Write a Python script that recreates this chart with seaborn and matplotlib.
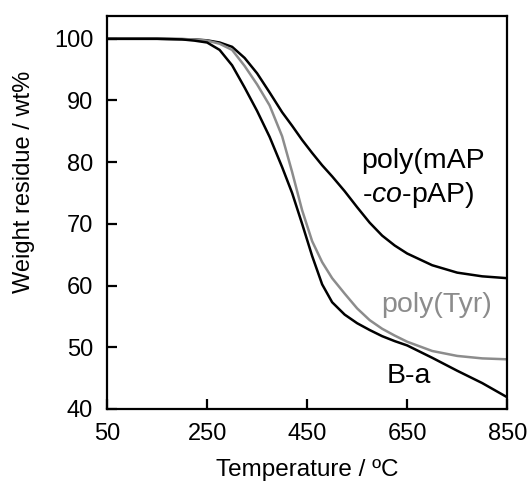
import pandas as pd
import matplotlib
matplotlib.use("Agg")
import matplotlib.pyplot as plt
import seaborn as sns

# TGA curves
temperature = [50, 100, 150, 200, 225, 250, 275, 300, 325, 350, 375, 400, 420,
               440, 460, 480, 500, 525, 550, 575, 600, 625, 650, 700, 750, 800, 850]
w_map_pap = [100, 100, 100, 99.95, 99.9, 99.75, 99.4, 98.7, 96.9, 94.4, 91.3, 88.1, 85.9,
             83.6, 81.5, 79.5, 77.7, 75.3, 72.7, 70.2, 68.1, 66.5, 65.2, 63.3, 62.1, 61.5, 61.2]
w_tyr = [100, 100, 100, 99.95, 99.9, 99.7, 99.2, 98.2, 95.6, 92.6, 89.2, 84.2, 78.4,
         72.2, 67.2, 63.8, 61.2, 58.7, 56.3, 54.4, 53.0, 51.9, 50.9, 49.4, 48.6, 48.2, 48.05]
w_ba = [100, 100, 100, 99.9, 99.7, 99.4, 98.2, 95.7, 92.1, 88.3, 84.1, 79.2, 75.0,
        70.0, 64.8, 60.2, 57.3, 55.3, 53.9, 52.8, 51.8, 51.0, 50.3, 48.3, 46.2, 44.2, 41.9]

samples = ["poly(mAP-co-pAP)", "poly(Tyr)", "B-a"]
grey = "#8c8c8c"
colors = {"poly(mAP-co-pAP)": "black", "poly(Tyr)": grey, "B-a": "black"}

df = pd.DataFrame({
    "T": temperature * 3,
    "W": w_map_pap + w_tyr + w_ba,
    "sample": [s for s in samples for _ in temperature],
})

sns.set_style("ticks")
plt.rcParams["font.family"] = ["Liberation Sans", "DejaVu Sans"]
plt.rcParams["mathtext.fontset"] = "custom"
plt.rcParams["mathtext.it"] = "Liberation Sans:italic"
plt.rcParams["mathtext.rm"] = "Liberation Sans"
plt.rcParams["text.color"] = "black"
plt.rcParams["axes.labelcolor"] = "black"

fig, ax = plt.subplots(figsize=(5.3, 4.84), dpi=100)
fig.subplots_adjust(left=0.202, right=0.957, bottom=0.155, top=0.967)

sns.lineplot(data=df, x="T", y="W", hue="sample", palette=colors,
             linewidth=1.8, legend=False, ax=ax, sort=False)

ax.set_xlim(50, 850)
ax.set_ylim(40, 103.7)
ax.set_xticks([50, 250, 450, 650, 850])
ax.set_yticks([40, 50, 60, 70, 80, 90, 100])
ax.tick_params(direction="in", length=7, width=1.6, labelsize=17, pad=10,
               color="black", labelcolor="black")
for sp in ax.spines.values():
    sp.set_linewidth(1.6)
    sp.set_color("black")

ax.set_xlabel("Temperature / ºC", fontsize=17.5)
ax.set_ylabel("Weight residue / wt%", fontsize=17)
ax.xaxis.set_label_coords(0.5, -0.128)
ax.yaxis.set_label_coords(-0.18, 0.578)

ax.text(559, 79.1, "poly(mAP", fontsize=20.5, ha="left", va="baseline")
ax.text(559, 73.5, r"-$\mathit{co}$-pAP)", fontsize=20.5, ha="left", va="baseline")
ax.text(599, 55.7, "poly(Tyr)", fontsize=20.5, ha="left", va="baseline", color=grey)
ax.text(609, 44.2, "B-a", fontsize=20.5, ha="left", va="baseline")

plt.savefig("out.png", dpi=100)
